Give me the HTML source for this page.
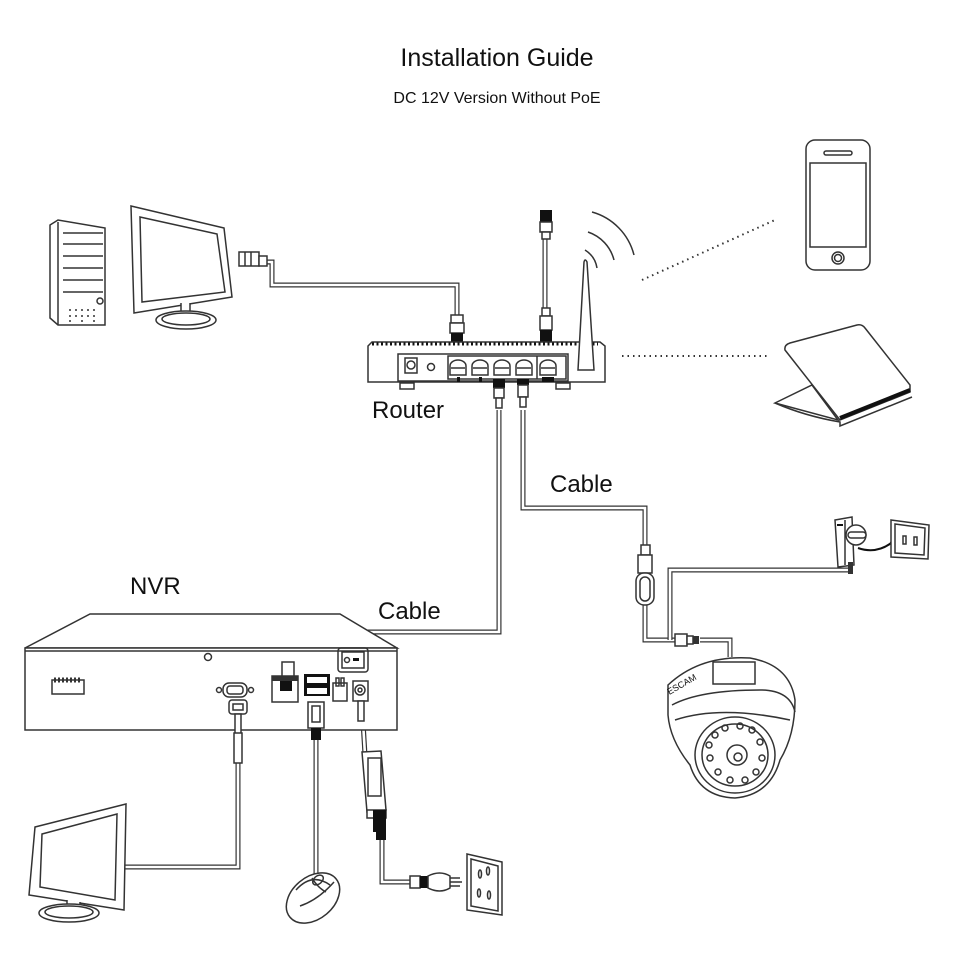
<!DOCTYPE html>
<html><head><meta charset="utf-8"><style>
html,body{margin:0;padding:0;background:#fff}
svg{display:block}
text{font-family:"Liberation Sans",Arial,sans-serif;fill:#111}
</style></head><body>
<svg width="960" height="960" viewBox="0 0 960 960" xmlns="http://www.w3.org/2000/svg">
<defs>
<style>.l{fill:none;stroke:#333;stroke-width:1.5}.c1{fill:none;stroke:#333;stroke-width:5}.c2{fill:none;stroke:#fff;stroke-width:2.6}.w{fill:#fff;stroke:#333;stroke-width:1.5}</style>
</defs>
<text x="497" y="66" font-size="25" text-anchor="middle">Installation Guide</text>
<text x="497" y="103" font-size="16" text-anchor="middle">DC 12V Version Without PoE</text>

<g>
<path class="c1" d="M262 262 H272 V285 H457 V320"/><path class="c2" d="M262 262 H272 V285 H457 V320"/>
<path class="c1" d="M545 235 V320"/><path class="c2" d="M545 235 V320"/>
<path class="c1" d="M499 410 V632 H287 V660"/><path class="c2" d="M499 410 V632 H287 V660"/>
<path class="c1" d="M523 410 V508 H645 V545"/><path class="c2" d="M523 410 V508 H645 V545"/>
<path class="c1" d="M645 605 V640 H680"/><path class="c2" d="M645 605 V640 H680"/>
<path class="c1" d="M850 570 H670 V640"/><path class="c2" d="M850 570 H670 V640"/>
<path class="c1" d="M700 640 H730 V657"/><path class="c2" d="M700 640 H730 V657"/>
<path class="c1" d="M238 762 V867 H125"/><path class="c2" d="M238 762 V867 H125"/>
<path class="c1" d="M316 740 V876"/><path class="c2" d="M316 740 V876"/>
<path class="c1" d="M362 705 L365 755"/><path class="c2" d="M362 705 L365 755"/>
<path class="c1" d="M382 840 V882 H412"/><path class="c2" d="M382 840 V882 H412"/>
</g>

<path class="w" d="M50 225 L58 220 L105 228 V325 H58 L50 318Z"/>
<path class="l" d="M58 222 V325 M63 233 H103 M63 244 H103 M63 256 H103 M63 268 H103 M63 280 H103 M63 292 H103"/>
<circle cx="100" cy="301" r="3" class="l"/>
<g fill="#333"><circle cx="70" cy="310" r="1"/><circle cx="76" cy="310" r="1"/><circle cx="82" cy="310" r="1"/><circle cx="88" cy="310" r="1"/><circle cx="94" cy="310" r="1"/><circle cx="70" cy="316" r="1"/><circle cx="76" cy="316" r="1"/><circle cx="82" cy="316" r="1"/><circle cx="88" cy="316" r="1"/><circle cx="94" cy="316" r="1"/><circle cx="70" cy="321" r="1"/><circle cx="82" cy="321" r="1"/><circle cx="94" cy="321" r="1"/></g>
<path class="w" d="M131 206 L224 228 L232 297 L134 313Z"/>
<path class="l" d="M140 217 L217 234 L225 292 L142 302Z"/>
<path class="w" d="M181 303 V317 H190 V303"/>
<ellipse cx="186" cy="320" rx="30" ry="9" class="w"/><ellipse cx="186" cy="319" rx="24" ry="6" class="l"/>
<rect x="239" y="252" width="20" height="14" class="w"/><path class="l" d="M245 252V266M251 252V266"/><rect x="259" y="256" width="8" height="10" class="w"/>

<rect x="451" y="315" width="12" height="8" class="w"/><rect x="450" y="323" width="14" height="10" class="w"/><rect x="451" y="333" width="12" height="10" fill="#111"/>
<rect x="540" y="210" width="12" height="12" fill="#111"/><rect x="540" y="222" width="12" height="10" class="w"/><rect x="542" y="232" width="8" height="7" class="w"/>
<rect x="542" y="308" width="8" height="8" class="w"/><rect x="540" y="316" width="12" height="14" class="w"/><rect x="540" y="330" width="12" height="12" fill="#111"/>
<path class="w" d="M368 346 L372 342 H600 L605 346 V382 H368Z"/>
<path d="M372 344 H598" stroke="#111" stroke-width="3" stroke-dasharray="2,2.5"/>
<rect x="398" y="354" width="170" height="27" class="l"/>
<rect x="448" y="356" width="118" height="23" class="l"/>
<path class="l" d="M537 356 V379"/>
<rect x="405" y="358" width="12" height="15" class="l"/><circle cx="411" cy="365" r="4" class="l"/><circle cx="431" cy="367" r="3.5" class="l"/>
<g class="l"><path d="M450 375 V366 A8 6 0 0 1 466 366 V375Z M451 368 H465"/><path d="M472 375 V366 A8 6 0 0 1 488 366 V375Z M473 368 H487"/><path d="M494 375 V366 A8 6 0 0 1 510 366 V375Z M495 368 H509"/><path d="M516 375 V366 A8 6 0 0 1 532 366 V375Z M517 368 H531"/><path d="M540 375 V366 A8 6 0 0 1 556 366 V375Z M541 368 H555"/></g>
<rect x="457" y="377" width="3" height="5" fill="#111"/><rect x="479" y="377" width="3" height="5" fill="#111"/><rect x="542" y="377" width="12" height="5" fill="#111"/>
<rect x="400" y="383" width="14" height="6" class="w"/><rect x="556" y="383" width="14" height="6" class="w"/>
<path class="w" d="M578 370 L584 262 Q585 258 587 262 L594 370Z"/>
<rect x="493" y="379" width="12" height="9" fill="#111"/><rect x="494" y="388" width="10" height="10" class="w"/><rect x="496" y="398" width="6" height="10" class="w"/>
<rect x="517" y="379" width="12" height="6" fill="#111"/><rect x="518" y="385" width="10" height="12" class="w"/><rect x="520" y="397" width="6" height="10" class="w"/>
<path class="l" d="M585 250 A26 26 0 0 1 597 268 M588 232 A40 40 0 0 1 614 260 M592 212 A60 60 0 0 1 634 255" stroke-width="2"/>
<text x="372" y="418" font-size="24">Router</text>
<path d="M642 280 L775 220" stroke="#333" stroke-width="2" stroke-dasharray="1.5,4"/>
<path d="M622 356 H770" stroke="#333" stroke-width="2" stroke-dasharray="1.5,4"/>

<rect x="806" y="140" width="64" height="130" rx="9" class="w"/>
<rect x="810" y="163" width="56" height="84" class="l"/>
<rect x="824" y="151" width="28" height="4" rx="2" class="l"/>
<circle cx="838" cy="258" r="6" class="l"/><circle cx="838" cy="258" r="3.5" class="l"/>
<path class="w" d="M775 403 L812 385 L838 420 Z"/>
<path class="w" d="M785 350 Q784 345 790 343 L857 325 Q862 324 865 328 L910 385 L910 392 L840 420 Z"/>
<path d="M840 418 L910 390" stroke="#111" stroke-width="4"/>
<path class="l" d="M775 403 Q805 416 840 422 L840 426 L912 397"/>

<text x="550" y="492" font-size="24">Cable</text>
<text x="130" y="594" font-size="24">NVR</text>
<text x="378" y="619" font-size="24">Cable</text>

<path class="w" d="M25 648 L90 614 L340 614 L397 648Z"/>
<rect x="25" y="648" width="372" height="82" class="w"/>
<path class="l" d="M25 651 H397"/>
<circle cx="208" cy="657" r="3.5" class="l"/>
<rect x="52" y="680" width="32" height="14" class="l"/><path d="M54 680 h28" stroke="#333" stroke-width="5" stroke-dasharray="2,2"/>
<rect x="338" y="648" width="30" height="24" rx="3" class="l"/><rect x="342" y="652" width="22" height="16" class="l"/><circle cx="347" cy="660" r="2.5" class="l"/><rect x="353" y="658" width="6" height="3" fill="#111"/>
<rect x="272" y="676" width="26" height="26" class="l"/><rect x="272" y="676" width="26" height="5" fill="#333"/><rect x="280" y="681" width="12" height="10" fill="#111"/>
<rect x="282" y="662" width="12" height="14" class="w"/>
<rect x="304" y="674" width="26" height="22" fill="#111"/><rect x="307" y="677" width="20" height="6" fill="#fff"/><rect x="307" y="688" width="20" height="6" fill="#fff"/>
<rect x="333" y="683" width="14" height="18" class="l"/><rect x="336" y="678" width="3" height="8" class="l"/><rect x="341" y="678" width="3" height="8" class="l"/>
<rect x="353" y="681" width="15" height="20" class="l"/><circle cx="360" cy="690" r="5" class="l"/><circle cx="360" cy="690" r="2" class="l"/>
<rect x="223" y="683" width="24" height="14" rx="6" class="l"/><rect x="227" y="686" width="16" height="8" rx="3" class="l"/><circle cx="219" cy="690" r="2.5" class="l"/><circle cx="251" cy="690" r="2.5" class="l"/>
<rect x="229" y="700" width="18" height="14" rx="3" class="w"/><rect x="233" y="704" width="10" height="6" class="l"/>
<rect x="235" y="714" width="6" height="20" class="w"/><rect x="234" y="733" width="8" height="30" class="w"/>
<rect x="308" y="702" width="16" height="26" class="w"/><rect x="312" y="706" width="8" height="16" class="l"/><rect x="311" y="728" width="10" height="12" fill="#111"/>
<rect x="358" y="701" width="6" height="20" class="w"/>
<path class="w" d="M362 752 L381 751 L386 810 L367 812Z"/><rect x="368" y="758" width="13" height="38" class="l"/>
<rect x="367" y="810" width="19" height="8" class="w"/><rect x="373" y="810" width="13" height="22" fill="#111"/><rect x="376" y="830" width="10" height="10" fill="#111"/>
<rect x="410" y="876" width="10" height="12" class="w"/><rect x="420" y="876" width="10" height="12" fill="#111"/><path class="w" d="M428 876 Q440 870 450 876 V888 Q440 894 428 888Z"/><path class="l" d="M450 878 H460 M450 882 H462 M450 886 H460"/>
<path class="w" d="M467 854 L502 862 V915 L467 910Z"/><path class="l" d="M471 859 L498 866 V911 L471 906Z"/>
<g class="l"><ellipse cx="480" cy="874" rx="1.5" ry="4"/><ellipse cx="488" cy="871" rx="1.5" ry="4"/><ellipse cx="479" cy="893" rx="1.5" ry="4"/><ellipse cx="489" cy="895" rx="1.5" ry="4"/></g>
<path class="w" d="M35 827 L126 804 L124 910 L29 895Z"/>
<path class="l" d="M42 834 L117 814 L115 900 L40 887Z"/>
<path class="w" d="M67 900 V912 H80 V902"/>
<ellipse cx="69" cy="913" rx="30" ry="9" class="w"/><ellipse cx="69" cy="912" rx="24" ry="6" class="l"/>

<!-- mouse -->
<ellipse cx="313" cy="898" rx="30" ry="21" transform="rotate(-40 313 898)" class="w"/>
<path class="l" d="M296 890 Q312 872 330 885 M312 878 Q318 888 326 892 M300 906 Q318 900 334 882"/>
<ellipse cx="318" cy="880" rx="6" ry="4" transform="rotate(-40 318 880)" class="l"/>

<rect x="641" y="545" width="9" height="10" class="w"/><rect x="638" y="555" width="14" height="18" class="w"/><rect x="636" y="573" width="18" height="32" rx="8" class="w"/><rect x="640" y="577" width="10" height="24" rx="5" class="l"/>
<rect x="675" y="634" width="12" height="12" class="w"/><rect x="687" y="636" width="6" height="8" class="w"/><rect x="693" y="636" width="6" height="8" fill="#333"/>
<path class="w" d="M835 520 L852 517 L854 565 L838 567Z"/><path class="l" d="M845 520 V565"/><rect x="837" y="524" width="6" height="2" fill="#111"/>
<circle cx="856" cy="535" r="10" class="w"/><rect x="848" y="532" width="18" height="6" rx="3" class="w"/>
<rect x="848" y="562" width="5" height="12" fill="#333"/>
<path d="M858 548 Q878 555 895 540" stroke="#111" stroke-width="2" fill="none"/><path d="M895 534 L900 545 L889 544Z" fill="#111"/>
<path class="w" d="M891 520 L929 525 L928 559 L891 557Z"/><path class="l" d="M895 524 L925 528 L924 555 L895 553Z"/>
<rect x="903" y="536" width="3" height="8" class="l"/><rect x="914" y="537" width="3" height="8" class="l"/>

<path class="w" d="M668 685 Q700 655 750 658 Q790 665 795 700 Q795 735 780 760 Q770 795 735 798 Q700 797 690 765 Q670 740 668 715Z"/>
<path class="l" d="M672 705 Q700 690 760 690 Q790 690 795 712 M675 720 Q720 705 790 720" stroke="#777"/>
<rect x="713" y="662" width="42" height="22" class="l"/>
<text x="668" y="690" font-size="9" transform="rotate(-30 678 690)" fill="#444">ESCAM</text>
<ellipse cx="735" cy="755" rx="40" ry="38" class="l" stroke-width="2.5"/>
<ellipse cx="735" cy="755" rx="33" ry="31" class="l" stroke="#888"/>
<circle cx="737" cy="755" r="10" class="l"/><circle cx="738" cy="757" r="4" class="l"/>
<g class="l" stroke="#888" stroke-width="1"><circle cx="715" cy="735" r="3"/><circle cx="725" cy="728" r="3"/><circle cx="740" cy="726" r="3"/><circle cx="752" cy="730" r="3"/><circle cx="760" cy="742" r="3"/><circle cx="762" cy="758" r="3"/><circle cx="756" cy="772" r="3"/><circle cx="745" cy="780" r="3"/><circle cx="730" cy="780" r="3"/><circle cx="718" cy="772" r="3"/><circle cx="710" cy="758" r="3"/><circle cx="709" cy="745" r="3"/></g>
</svg>
</body></html>
